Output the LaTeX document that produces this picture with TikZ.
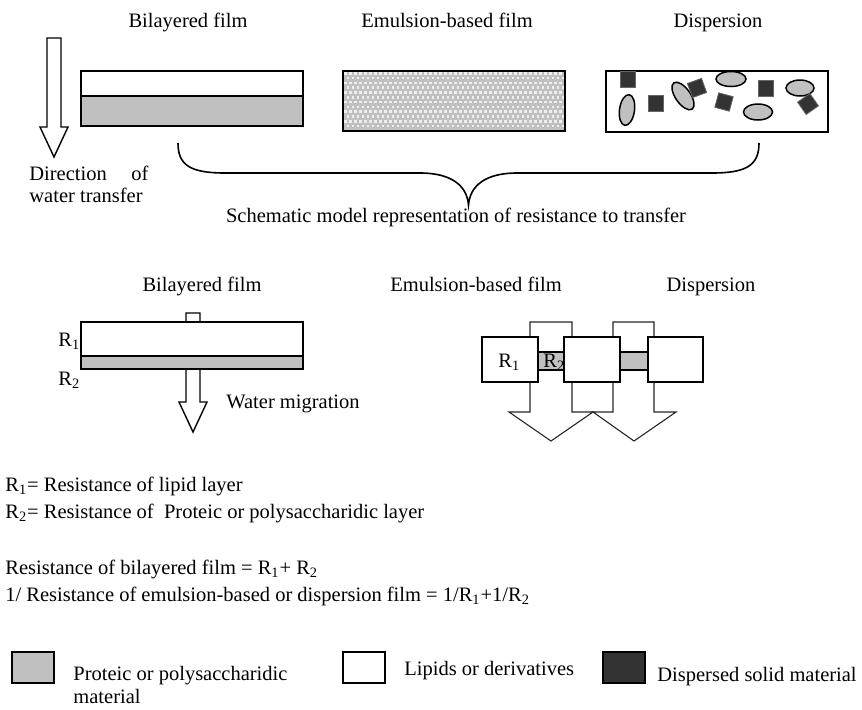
\documentclass[tikz,border=0pt]{standalone}
\usepackage{fontspec}
\setmainfont{Liberation Serif}
\usepackage{tikz}
\definecolor{protein}{RGB}{192,192,192}
\definecolor{solid}{RGB}{51,51,51}
\definecolor{speck}{RGB}{238,238,238}
\tikzset{
  film/.style={draw=black, line width=1pt},
  blockarrow/.style={draw=black, fill=white, line width=0.7pt},
  thinarrow/.style={draw=black!85, fill=white, line width=0.55pt},
  particle/.style={draw=black, fill=protein, line width=0.75pt},
  solidbit/.style={draw=black!60, fill=solid, line width=0.4pt},
  heading/.style={anchor=base, inner sep=0pt},
  textline/.style={anchor=base west, inner sep=0pt}
}

\begin{document}
\begin{tikzpicture}[x=0.5pt, y=-0.5pt, font=\fontsize{10.25}{13.5}\selectfont]
      \useasboundingbox (0,0) rectangle (862,709);

      % Draw the titles of the top row
      \node[heading] (topbil) at (188,27) {Bilayered film};
      \node[heading] (topemu) at (447,27) {Emulsion-based film};
      \node[heading] (topdis) at (718,27) {Dispersion};

      % Draw the direction arrow and its text
      \draw[blockarrow] (47,38) -- (61,38) -- (61,127) -- (68,127) -- (54,157) -- (40,127) -- (47,127) -- cycle;
      \node[textline] (dirone) at (29,180) {\makebox[59.5pt][s]{Direction of}};
      \node[textline] (dirtwo) at (29,202) {water transfer};

      % Draw the bilayered film
      \fill[white] (81,71) rectangle (303,96);
      \fill[protein] (81,96) rectangle (303,126);
      \draw[film] (81,71) rectangle (303,126);
      \draw[film] (81,96) -- (303,96);

      % Draw the emulsion-based film with its specks
      \begin{scope}
        \clip (343,71) rectangle (565,131);
        \fill[protein] (343,71) rectangle (565,131);
        \foreach \row in {0,...,12}
          \foreach \col in {0,...,45}
            \fill[speck] ({344+5*\col+2.5*mod(\row,2)},{72+4.8*\row}) rectangle +(2.8,2.6);
      \end{scope}
      \draw[film] (343,71) rectangle (565,131);

      % Draw the dispersion with its particles
      \draw[film, fill=white] (606,71) rectangle (828,132);
      \draw[solidbit] (620,71) rectangle (635,87);
      \draw[particle, rotate around={-8:(627,110)}] (627,110) ellipse (7.5 and 15.5);
      \draw[solidbit] (648,95) rectangle (663,111);
      \draw[particle, rotate around={-55:(683,96)}] (683,96) ellipse (16 and 7.5);
      \draw[solidbit, rotate around={20:(697,88)}] (689.5,80.5) rectangle (704.5,95.5);
      \draw[particle] (731,79) ellipse (15 and 7.5);
      \draw[solidbit, rotate around={-15:(724,102)}] (716.5,94.5) rectangle (731.5,109.5);
      \draw[particle] (758,112) ellipse (14.5 and 8);
      \draw[solidbit] (758,80) rectangle (773,96);
      \draw[particle] (800,88) ellipse (14 and 8);
      \draw[solidbit, rotate around={35:(808,104)}] (800.5,96.5) rectangle (815.5,111.5);

      % Draw the brace and its caption
      \draw[line width=0.8pt] (178,143) .. controls (178,165) and (190,173) .. (225,173) -- (420,173)
        .. controls (452,173) and (467,186) .. (468.5,205) .. controls (470,186) and (485,173) .. (517,173)
        -- (712,173) .. controls (747,173) and (759,165) .. (759,143);
      \node[heading] (schema) at (456,222) {Schematic model representation of resistance to transfer};

      % Draw the titles of the second row
      \node[heading] (midbil) at (202,291) {Bilayered film};
      \node[heading] (midemu) at (476,291) {Emulsion-based film};
      \node[heading] (middis) at (711,291) {Dispersion};

      % Draw the bilayer model with the water migration
      \draw[blockarrow] (186,313) -- (200,313) -- (200,402) -- (207,402) -- (193,432) -- (179,402) -- (186,402) -- cycle;
      \fill[white] (81,322) rectangle (303,356);
      \fill[protein] (81,356) rectangle (303,369);
      \draw[film] (81,322) rectangle (303,369);
      \draw[film] (81,356) -- (303,356);
      \node[textline] (rone) at (58,346) {R\textsubscript{1}};
      \node[textline] (rtwo) at (58,385) {R\textsubscript{2}};
      \node[textline] (migration) at (226,408) {Water migration};

      % Draw the parallel model of resistances
      \draw[thinarrow] (530,322) -- (572,322) -- (572,412) -- (593,412) -- (551,441) -- (509,412) -- (530,412) -- cycle;
      \draw[thinarrow] (613,322) -- (654,322) -- (654,412) -- (676,412) -- (634,441) -- (593,412) -- (613,412) -- cycle;
      \draw[draw=black, fill=protein, line width=0.6pt] (536,352) rectangle (566,370);
      \draw[draw=black, fill=protein, line width=0.6pt] (618,352) rectangle (650,370);
      \draw[film, fill=white] (482,337) rectangle (538,382);
      \draw[film, fill=white] (564,337) rectangle (620,382);
      \draw[film, fill=white] (648,337) rectangle (703,382);
      \node[textline] (cellone) at (498,367) {R\textsubscript{1}};
      \node[textline] (celltwo) at (543,367) {R\textsubscript{2}};

      % Draw the definitions and the formulas
      \node[textline] (defone) at (5,491) {R\textsubscript{1}= Resistance of lipid layer};
      \node[textline] (deftwo) at (5,518) {R\textsubscript{2}= Resistance of \ Proteic or polysaccharidic layer};
      \node[textline] (sumone) at (5,574) {Resistance of bilayered film = R\textsubscript{1}+ R\textsubscript{2}};
      \node[textline] (sumtwo) at (5,601) {1/ Resistance of emulsion-based or dispersion film = 1/R\textsubscript{1}+1/R\textsubscript{2}};

      % Draw the legend
      \draw[film, fill=protein] (12,652) rectangle (54,683);
      \node[textline] (keyprot) at (73,680) {Proteic or polysaccharidic};
      \node[textline] (keymat) at (73,703) {material};
      \draw[film, fill=white] (343,652) rectangle (385,683);
      \node[textline] (keylip) at (404,675) {Lipids or derivatives};
      \draw[film, fill=solid] (603,652) rectangle (645,683);
      \node[textline] (keysolid) at (657,681) {Dispersed solid material};
\end{tikzpicture}
\end{document}
